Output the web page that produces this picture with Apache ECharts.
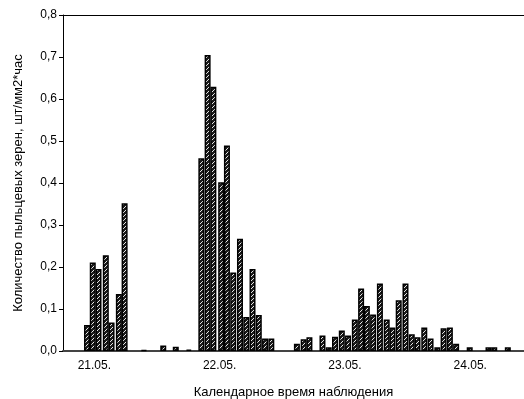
<!DOCTYPE html>
<html>
<head>
<meta charset="utf-8">
<script src="https://cdn.jsdelivr.net/npm/echarts@6/dist/echarts.min.js"></script>
<style>
html, body { margin: 0; padding: 0; background: #fff; }
#chart { width: 524px; height: 399px; }
</style>
</head>
<body>
<div id="chart"></div>
<script>
// время, часы от 21.05 00:00
var hours = [10.6, 11.7, 12.8, 14.2, 15.3, 16.7, 17.8,
    21.5, 25.2, 27.6, 30.1,
    32.5, 33.7, 34.8, 36.3, 37.4, 38.6, 39.9, 41.1, 42.3, 43.5, 44.7, 45.9,
    50.8, 52.1, 53.2, 55.7, 56.9, 58.1, 59.4, 60.6, 61.9, 63.1, 64.2, 65.4, 66.7,
    68.0, 69.1, 70.3, 71.6, 72.8, 73.9, 75.2, 76.4, 77.7, 78.9, 80.1, 81.3,
    83.9, 87.5, 88.6, 91.2];
var values = [0.062, 0.211, 0.195, 0.228, 0.068, 0.136, 0.352,
    0.002, 0.013, 0.010, 0.003,
    0.459, 0.705, 0.629, 0.402, 0.489, 0.187, 0.267, 0.081, 0.195, 0.086, 0.030, 0.030,
    0.017, 0.028, 0.033, 0.037, 0.009, 0.034, 0.049, 0.037, 0.075, 0.149, 0.107, 0.087, 0.161,
    0.075, 0.056, 0.121, 0.161, 0.040, 0.033, 0.056, 0.030, 0.009, 0.054, 0.056, 0.017,
    0.009, 0.009, 0.009, 0.009];
var days = ['21.05.', '22.05.', '23.05.', '24.05.'];
var dayPos = [12, 36, 60, 84];

// штриховка столбиков
var cv = document.createElement('canvas');
cv.width = 4; cv.height = 4;
var ctx = cv.getContext('2d');
ctx.fillStyle = '#1a1a1a';
ctx.fillRect(0, 0, 4, 4);
ctx.fillStyle = '#e6e6e6';
for (var i = 0; i < 4; i++) {
    ctx.fillRect(i, 3 - i, 1, 1);
}

var data = hours.map(function (h, i) { return [h, values[i]]; });

var myChart = echarts.init(document.getElementById('chart'));
myChart.setOption({
    animation: false,
    textStyle: { fontFamily: 'Liberation Sans, Arial, sans-serif' },
    grid: { left: 63, right: 0, top: 15, bottom: 48, outerBoundsMode: 'none', containLabel: false },
    xAxis: [{
        type: 'value',
        min: 6,
        max: 94.3,
        interval: 6,
        name: 'Календарное время наблюдения',
        nameLocation: 'middle',
        nameGap: 35,
        nameTextStyle: { fontSize: 13, color: '#000' },
        axisLine: { lineStyle: { color: '#444', width: 2 } },
        axisTick: { show: false },
        splitLine: { show: false },
        axisLabel: {
            color: '#000',
            fontSize: 12,
            margin: 9,
            showMaxLabel: false,
            formatter: function (v) {
                var k = dayPos.indexOf(v);
                return k >= 0 ? days[k] : '';
            }
        }
    }, {
        type: 'value',
        position: 'top',
        min: 6,
        max: 94.3,
        axisLine: { show: true, lineStyle: { color: '#000', width: 1 } },
        axisTick: { show: false },
        axisLabel: { show: false },
        splitLine: { show: false }
    }],
    yAxis: {
        type: 'value',
        min: 0,
        max: 0.8,
        interval: 0.1,
        name: 'Количество пыльцевых зерен, шт/мм2*час',
        nameLocation: 'middle',
        nameGap: 38,
        nameTextStyle: { fontSize: 13, color: '#000' },
        axisLine: { show: true, lineStyle: { color: '#000', width: 1 } },
        axisTick: { show: true, length: 4, lineStyle: { color: '#000' } },
        splitLine: { show: false },
        axisLabel: {
            color: '#000',
            fontSize: 12,
            margin: 6,
            formatter: function (v) { return v.toFixed(1).replace('.', ','); }
        }
    },
    series: [{
        type: 'bar',
        barWidth: 6,
        data: data,
        itemStyle: {
            color: { image: cv, repeat: 'repeat' },
            borderColor: '#000',
            borderWidth: 1.5
        }
    }]
});
</script>
</body>
</html>
